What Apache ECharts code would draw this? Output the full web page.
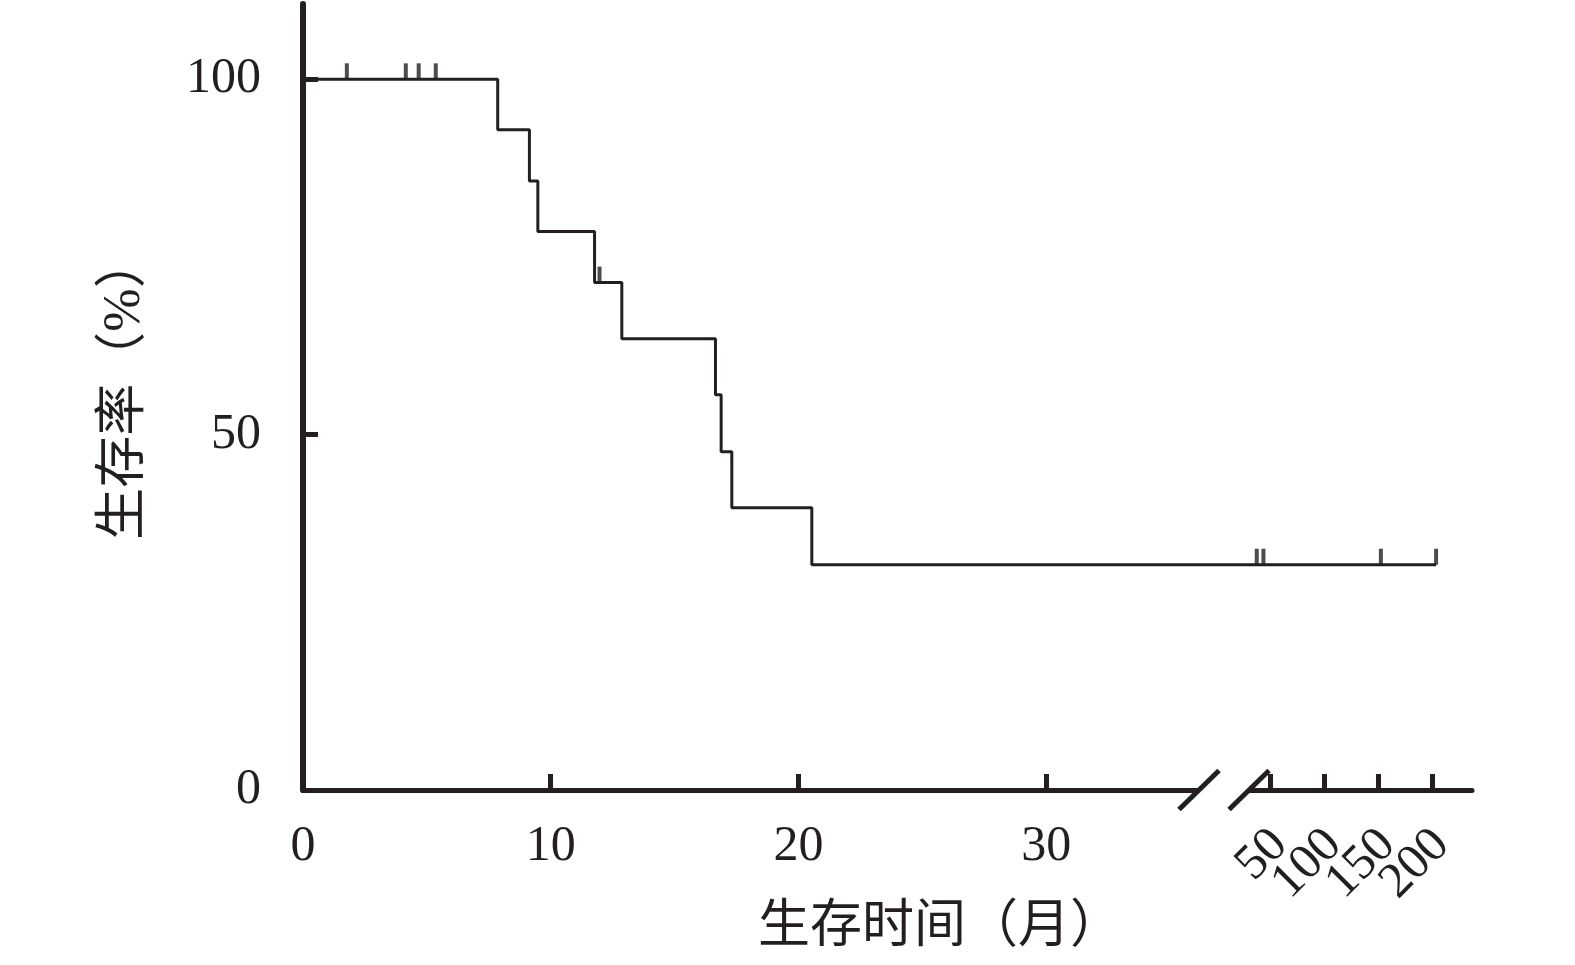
<!DOCTYPE html>
<html>
<head>
<meta charset="utf-8">
<script src="https://cdn.jsdelivr.net/npm/echarts@6/dist/echarts.min.js"></script>
<style>
html,body{margin:0;padding:0;background:#fff;}
#chart{width:1575px;height:965px;}
</style>
</head>
<body>
<div id="chart"></div>
<script>
// ---- data (months, survival %) ----
const EVENT_MONTHS   = [0, 7.86, 9.14, 9.48, 11.77, 12.87, 16.65, 16.88, 17.31, 20.54, 204];
const EVENT_SURVIVAL = [100, 92.9, 85.7, 78.6, 71.4, 63.5, 55.6, 47.6, 39.7, 31.7, 31.7];
const CENSOR_MONTHS   = [1.77, 4.15, 4.67, 5.36, 11.97, 37.7, 43.9, 152.8, 204];
const CENSOR_SURVIVAL = [100, 100, 100, 100, 71.4, 31.7, 31.7, 31.7, 31.7];
const LEFT_TICKS  = [0, 10, 20, 30];
const RIGHT_TICKS = [50, 100, 150, 200];
const Y_TICKS     = [0, 50, 100];

// ---- broken axis mapping (months -> axis units) ----
const LEFT_END = 36;          // left segment: 1 unit per month
const RIGHT_OFFSET = 36.86;   // right segment origin
const RIGHT_SCALE = 0.04353;  // right segment units per month
const AXIS_MAX = 47.19;
const BREAK_U = [36.17, 38.19];
function toAxis(t){ return t <= LEFT_END ? t : RIGHT_OFFSET + t * RIGHT_SCALE; }
function fromAxis(u){ return u <= LEFT_END + 0.5 ? u : (u - RIGHT_OFFSET) / RIGHT_SCALE; }

const INK = '#231f20';
const SERIF = "'Liberation Serif', 'Times New Roman', serif";
const CJK = "'Liberation Serif', 'Noto Sans CJK SC', serif";

function rightLabelAxis(labelValues, showTicks){
  return {
    type: 'value', min: 0, max: AXIS_MAX, position: 'bottom', gridIndex: 0,
    axisLine: { show: false },
    axisTick: { show: showTicks, inside: true, length: 16, lineStyle: { color: INK, width: 5 },
                customValues: RIGHT_TICKS.map(toAxis) },
    axisLabel: { show: true, rotate: 45, margin: 22, verticalAlign: 'top',
                 padding: [0, 11, 0, 0],
                 fontFamily: SERIF, fontSize: 50, color: INK,
                 hideOverlap: false, showMinLabel: true, showMaxLabel: true,
                 customValues: labelValues.map(toAxis),
                 formatter: v => String(Math.round(fromAxis(v))) },
    splitLine: { show: false }
  };
}

const chart = echarts.init(document.getElementById('chart'));
const option = {
  backgroundColor: '#fff',
  animation: false,
  grid: { left: 303, right: 103, top: 4, bottom: 175, containLabel: false },
  xAxis: [
    {
      type: 'value', min: 0, max: AXIS_MAX, position: 'bottom',
      name: '生存时间（月）', nameLocation: 'middle', nameGap: 112,
      nameTextStyle: { fontFamily: CJK, fontSize: 52, color: INK, padding: [0, 0, 0, 105] },
      axisLine: { show: true, lineStyle: { color: INK, width: 5 } },
      axisTick: { show: true, inside: true, length: 16, lineStyle: { color: INK, width: 5 },
                  customValues: LEFT_TICKS.filter(v => v > 0).map(toAxis) },
      axisLabel: { show: true, margin: 32, fontFamily: SERIF, fontSize: 50, color: INK,
                   hideOverlap: false,
                   customValues: LEFT_TICKS.map(toAxis),
                   formatter: v => String(Math.round(fromAxis(v))) },
      splitLine: { show: false }
    },
    rightLabelAxis(RIGHT_TICKS.filter((v, i) => i % 2 === 0), true),
    rightLabelAxis(RIGHT_TICKS.filter((v, i) => i % 2 === 1), false)
  ],
  yAxis: {
    type: 'value', min: 0, max: 110.6,
    name: '生存率（%）', nameLocation: 'middle', nameGap: 152,
    nameTextStyle: { fontFamily: CJK, fontSize: 52, color: INK, padding: [0, 0, 0, 18] },
    axisLine: { show: true, lineStyle: { color: INK, width: 6 } },
    axisTick: { show: true, inside: true, length: 15, lineStyle: { color: INK, width: 5 },
                customValues: Y_TICKS.filter(v => v > 0) },
    axisLabel: { show: true, margin: 42, fontFamily: SERIF, fontSize: 50, color: INK,
                 hideOverlap: false,
                 customValues: Y_TICKS },
    splitLine: { show: false }
  },
  series: [
    {
      type: 'line', step: 'end', symbol: 'none', xAxisIndex: 0,
      lineStyle: { color: INK, width: 3 },
      data: EVENT_MONTHS.map((t, i) => [toAxis(t), EVENT_SURVIVAL[i]]),
      z: 3
    },
    {
      type: 'scatter', symbol: 'rect', symbolSize: [4, 16], symbolOffset: [0, -8], xAxisIndex: 0,
      itemStyle: { color: INK },
      data: CENSOR_MONTHS.map((t, i) => [toAxis(t), CENSOR_SURVIVAL[i]]),
      z: 4
    }
  ]
};
chart.setOption(option);

// axis break decoration
const p1 = chart.convertToPixel({ gridIndex: 0 }, [BREAK_U[0], 0]);
const p2 = chart.convertToPixel({ gridIndex: 0 }, [BREAK_U[1], 0]);
const dx = 20, dy = 19.5;
chart.setOption({
  graphic: [
    { type: 'rect', z: 100, shape: { x: p1[0], y: p1[1] - 4, width: p2[0] - p1[0], height: 8 },
      style: { fill: '#fff' } },
    { type: 'line', z: 101, shape: { x1: p1[0] - dx, y1: p1[1] + dy, x2: p1[0] + dx, y2: p1[1] - dy },
      style: { stroke: INK, lineWidth: 5 } },
    { type: 'line', z: 101, shape: { x1: p2[0] - dx, y1: p2[1] + dy, x2: p2[0] + dx, y2: p2[1] - dy },
      style: { stroke: INK, lineWidth: 5 } }
  ]
});
</script>
</body>
</html>
